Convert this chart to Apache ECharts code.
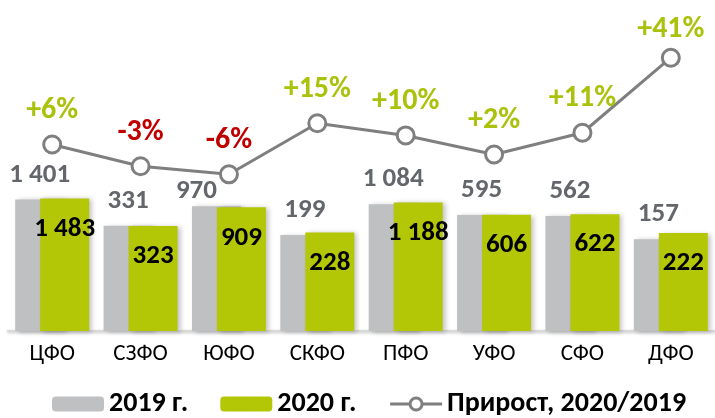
<!DOCTYPE html>
<html>
<head>
<meta charset="utf-8">
<script src="https://cdn.jsdelivr.net/npm/echarts@6/dist/echarts.min.js"></script>
<style>
  html, body { margin: 0; padding: 0; background: #fff; }
  #chart { width: 715px; height: 418px; }
</style>
</head>
<body>
<div id="chart"></div>
<script>
// федеральные округа
const regions = ["ЦФО", "СЗФО", "ЮФО", "СКФО", "ПФО", "УФО", "СФО", "ДФО"];
const values2019 = [1401, 331, 970, 199, 1084, 595, 562, 157];
const values2020 = [1483, 323, 909, 228, 1188, 606, 622, 222];
// прирост, %
const growth = [5.9, -3.0, -6.3, 14.6, 9.6, 1.8, 10.7, 41.4];

const FONT = 'Carlito, Lato, "Noto Sans", sans-serif';
const GREY = "#bfc0c2";
const GREEN = "#b3c706";
const LINE = "#7f7f7f";

function spaced(v) {
  return String(v).replace(/\B(?=(\d{3})+(?!\d))/g, " ");
}

// подпись ЮФО сдвинута, чтобы не налезала на линию
const bars2019 = values2019.map((v, i) =>
  i === 2 ? { value: v, label: { offset: [-20, 10] } } : v
);
const growthPoints = growth.map((v, i) =>
  i === 7 ? { value: v, label: { offset: [0, 6] } } : v
);

const chart = echarts.init(document.getElementById("chart"));
chart.setOption({
  animation: false,
  textStyle: { fontFamily: FONT },
  grid: { left: 8, width: 711, top: 38.4, height: 292.6 },
  legend: {
    left: 47,
    top: 385,
    itemWidth: 52,
    itemHeight: 15,
    itemGap: 32,
    textStyle: { fontFamily: FONT, fontSize: 28, fontWeight: "bold", color: "#000" },
    data: [
      "2019 г.",
      "2020 г.",
      {
        name: "Прирост, 2020/2019",
        lineStyle: { color: LINE, width: 3 },
        itemStyle: { color: "#fff", borderColor: LINE, borderWidth: 3 },
      },
    ],
  },
  xAxis: {
    type: "category",
    data: regions,
    axisTick: { show: false },
    axisLine: {
      onZero: false,
      lineStyle: { color: "#d9d9d9", width: 2, shadowColor: "rgba(0,0,0,0.25)", shadowBlur: 3, shadowOffsetY: 1 },
    },
    axisLabel: { color: "#000", fontSize: 23, margin: 12 },
  },
  yAxis: [
    { type: "log", logBase: 10, min: 1, max: 1e7, show: false },
    { type: "value", min: -70.4, max: 49.3, show: false },
  ],
  series: [
    {
      name: "2019 г.",
      type: "bar",
      data: bars2019,
      barWidth: 49,
      barGap: "-49%",
      itemStyle: { color: GREY, shadowColor: "rgba(0,0,0,0.25)", shadowBlur: 5, shadowOffsetX: 3, shadowOffsetY: 1 },
      label: {
        show: true,
        position: "top",
        distance: 11,
        fontSize: 27,
        fontWeight: "bold",
        color: "#63666a",
        formatter: (p) => spaced(p.value),
      },
    },
    {
      name: "2020 г.",
      type: "bar",
      data: values2020,
      barWidth: 49,
      itemStyle: { color: GREEN, shadowColor: "rgba(0,0,0,0.25)", shadowBlur: 5, shadowOffsetX: 3, shadowOffsetY: 1 },
      label: {
        show: true,
        position: "insideTop",
        distance: 17,
        fontSize: 27,
        fontWeight: "bold",
        color: "#000",
        formatter: (p) => spaced(p.value),
      },
    },
    {
      name: "Прирост, 2020/2019",
      type: "line",
      yAxisIndex: 1,
      data: growthPoints,
      symbol: "circle",
      symbolSize: 17,
      z: 5,
      lineStyle: { color: LINE, width: 3 },
      itemStyle: { color: "#fff", borderColor: LINE, borderWidth: 3 },
      label: {
        show: true,
        position: "top",
        distance: 9,
        formatter: (p) => {
          const r = Math.round(p.value);
          return r >= 0 ? "{pos|+" + r + "%}" : "{neg|" + r + "%}";
        },
        rich: {
          pos: { color: "#abc20d", fontSize: 30, fontWeight: "bold", fontFamily: FONT },
          neg: { color: "#c00000", fontSize: 30, fontWeight: "bold", fontFamily: FONT },
        },
      },
    },
  ],
});
</script>
</body>
</html>
